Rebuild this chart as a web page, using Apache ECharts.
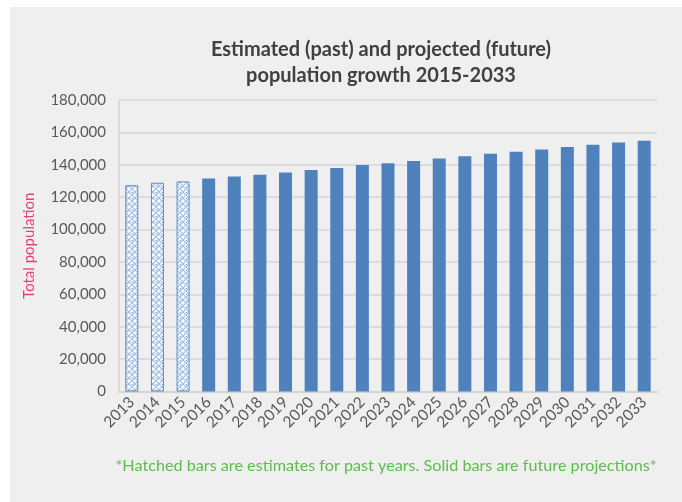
<!DOCTYPE html>
<html>
<head>
<meta charset="utf-8">
<script src="https://cdn.jsdelivr.net/npm/echarts@6/dist/echarts.min.js"></script>
<style>
  html, body { margin: 0; padding: 0; background: #ffffff; }
  #chart { width: 682px; height: 502px; }
</style>
</head>
<body>
<div id="chart"></div>
<script>
// ---- Data ----
var categories = ['2013','2014','2015','2016','2017','2018','2019','2020','2021','2022','2023',
                  '2024','2025','2026','2027','2028','2029','2030','2031','2032','2033'];
var estimatedPast = [127400, 128900, 129700, '-', '-', '-', '-', '-', '-', '-', '-',
                     '-', '-', '-', '-', '-', '-', '-', '-', '-', '-'];
var projectedFuture = ['-', '-', '-', 131500, 132700, 133900, 135200, 136800, 138000, 139800, 141000,
                       142400, 143900, 145300, 146800, 148000, 149500, 151000, 152400, 153700, 154900];
var yTicks = { min: 0, max: 180000, interval: 20000 };
var titleText = 'Estimated (past) and projected (future)\npopulation growth 2015-2033';
var yAxisName = 'Total population';
var footnote = '*Hatched bars are estimates for past years. Solid bars are future projections*';

// ---- Hatch pattern ----
function makePattern() {
  var c = document.createElement('canvas');
  c.width = 6; c.height = 6;
  var g = c.getContext('2d');
  g.fillStyle = '#ffffff';
  g.fillRect(0, 0, 6, 6);
  g.strokeStyle = '#a3bfe3';
  g.lineWidth = 1.2;
  g.beginPath();
  g.moveTo(0, 3); g.lineTo(3, 0); g.lineTo(6, 3); g.lineTo(3, 6); g.closePath();
  g.stroke();
  g.fillStyle = '#6f97cc';
  g.fillRect(0, 0, 1, 1);
  return c;
}

var chart = echarts.init(document.getElementById('chart'), null, { renderer: 'canvas' });
var FONT = 'Lato';
chart.setOption({
  backgroundColor: '#ffffff',
  animation: false,
  graphic: [
    { type: 'rect', z: -10, shape: { x: 10, y: 7, width: 672, height: 495 }, style: { fill: '#efefef' } },
    { type: 'text', z: 10, style: { x: 386, y: 466, text: footnote, fill: '#5bbd4b', font: '16.2px ' + FONT, textAlign: 'center', textVerticalAlign: 'middle' } }
  ],
  title: {
    text: titleText,
    left: 376,
    top: 32,
    textAlign: 'center',
    textStyle: { fontFamily: FONT, fontWeight: 'bold', fontSize: 20, color: '#404040', lineHeight: 26 }
  },
  grid: { left: 119, right: 25, top: 100, bottom: 110.5, containLabel: false },
  xAxis: {
    type: 'category',
    data: categories,
    axisLine: { lineStyle: { color: '#d4d4d4', width: 2 } },
    axisTick: { show: false },
    axisLabel: { rotate: 45, margin: 8, color: '#595959', fontSize: 15.5, fontFamily: FONT, interval: 0 }
  },
  yAxis: {
    type: 'value',
    min: yTicks.min, max: yTicks.max, interval: yTicks.interval,
    name: yAxisName,
    nameLocation: 'middle',
    nameGap: 82,
    nameTextStyle: { color: '#ec3f78', fontSize: 15, fontFamily: FONT },
    axisLine: { show: true, lineStyle: { color: '#d4d4d4', width: 1.5 } },
    axisTick: { show: false },
    splitLine: { lineStyle: { color: '#d6d6d6', width: 1.5 } },
    axisLabel: {
      margin: 13, color: '#595959', fontSize: 15, fontFamily: FONT,
      formatter: function (v) { return v.toLocaleString('en-US'); }
    }
  },
  series: [
    {
      name: 'Estimated', type: 'bar', data: estimatedPast, barWidth: 13, barGap: '-100%',
      itemStyle: { color: { image: makePattern(), repeat: 'repeat' }, borderColor: '#5b8bc7', borderWidth: 1 }
    },
    {
      name: 'Projected', type: 'bar', data: projectedFuture, barWidth: 13,
      itemStyle: { color: '#4f81bd' }
    }
  ]
});
</script>
</body>
</html>
